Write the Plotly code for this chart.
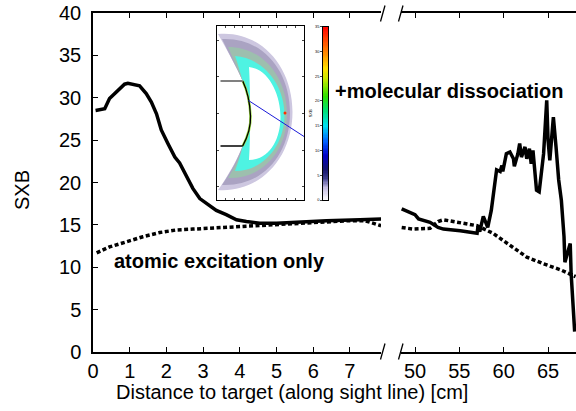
import numpy as np
import plotly.graph_objects as go

# ---------------- data ----------------
left_solid_x = [0.07, 0.32, 0.45, 0.55, 0.68, 0.86, 0.95, 1.14, 1.27, 1.45, 1.59, 1.73, 1.86,
                2.04, 2.23, 2.36, 2.54, 2.72, 2.91, 3.09, 3.36, 3.63, 3.91, 4.18, 4.54, 5.0,
                5.45, 6.36, 7.27, 7.85]
left_solid_y = [28.5, 28.7, 29.9, 30.3, 30.9, 31.6, 31.7, 31.5, 31.4, 30.5, 29.5, 28.1, 26.2,
                24.6, 23.0, 22.3, 20.7, 19.3, 18.1, 17.5, 16.7, 16.2, 15.6, 15.4, 15.2, 15.2,
                15.3, 15.5, 15.6, 15.7]
left_dot_x = [0.1, 0.45, 0.91, 1.36, 1.82, 2.27, 2.72, 3.63, 4.54, 5.45, 6.36, 7.0, 7.4, 7.85]
left_dot_y = [11.7, 12.4, 13.0, 13.6, 14.1, 14.4, 14.5, 14.7, 15.0, 15.2, 15.4, 15.5, 15.5, 14.9]

right_solid_x = [48.5, 50.0, 50.4, 51.7, 52.6, 53.2, 55.1, 57.0, 57.1, 57.3, 57.7, 58.2, 58.6,
                 58.8, 59.0, 59.2, 59.6, 59.8, 59.9, 60.3, 60.7, 61.1, 61.2, 61.6, 61.8, 62.0,
                 62.4, 62.6, 62.9, 63.1, 63.3, 63.5, 63.7, 64.0, 64.3, 64.5, 64.85, 65.0, 65.2,
                 65.6, 65.9, 66.2, 66.5, 66.8, 66.9, 67.3, 67.5, 67.6, 67.8, 68.0]
right_solid_y = [16.9, 16.2, 15.7, 15.3, 14.7, 14.5, 14.3, 14.0, 14.8, 14.2, 16.0, 14.7, 16.7,
                 18.1, 19.9, 21.5, 21.3, 22.0, 21.3, 23.4, 23.6, 22.8, 21.9, 23.4, 24.6, 23.0,
                 24.2, 22.8, 24.0, 22.2, 23.8, 20.7, 19.1, 18.9, 21.5, 23.4, 29.7, 25.0, 22.6,
                 27.7, 24.2, 20.3, 17.9, 13.6, 10.6, 12.0, 12.8, 9.3, 5.7, 2.4]
right_dot_x = [48.5, 49.8, 51.7, 52.6, 53.2, 55.1, 57.0, 58.8, 60.7, 62.6, 64.5, 66.4, 68.1]
right_dot_y = [14.7, 14.5, 14.6, 15.4, 15.6, 15.3, 14.9, 14.0, 12.6, 11.2, 10.4, 9.7, 8.9]

left_ticks = [0, 1, 2, 3, 4, 5, 6, 7]
right_ticks = [50, 55, 60, 65]
y_ticks = [0, 5, 10, 15, 20, 25, 30, 35, 40]
cb_ticks = [0, 5, 10, 15, 20, 25, 30, 35]
cb_levels = np.linspace(0, 35, 141)

label_molecular = "+molecular dissociation"
label_atomic = "atomic excitation only"
x_title = "Distance to target (along sight line) [cm]"
y_title = "SXB"

# ---------------- layout geometry (pixels) ----------------
W, H = 576, 411
L, R, T, B = 93, 0, 13, 59
PW, PH = W - L - R, H - T - B


def px(xp):
    return (xp - L) / PW


def py(yp):
    return (H - B - yp) / PH


FONT = "Liberation Sans, Arial, Helvetica, sans-serif"
solid = dict(color="black", width=3.5)
dotted = dict(color="black", width=3.5, dash="4px,2.5px")

fig = go.Figure()
fig.add_trace(go.Scatter(x=left_solid_x, y=left_solid_y, mode="lines", line=solid,
                         xaxis="x", yaxis="y", showlegend=False))
fig.add_trace(go.Scatter(x=left_dot_x, y=left_dot_y, mode="lines", line=dotted,
                         xaxis="x", yaxis="y", showlegend=False))
fig.add_trace(go.Scatter(x=right_solid_x, y=right_solid_y, mode="lines", line=solid,
                         xaxis="x2", yaxis="y2", showlegend=False))
fig.add_trace(go.Scatter(x=right_dot_x, y=right_dot_y, mode="lines", line=dotted,
                         xaxis="x2", yaxis="y2", showlegend=False))

# inset (illustration) axes in pixel-like coordinates
fig.add_trace(go.Scatter(x=[None], y=[None], xaxis="x3", yaxis="y3", showlegend=False,
                         hoverinfo="skip"))
# colour bar of the inset
cb_colorscale = [[0.0, "#ffffff"], [0.07, "#c8c0e4"], [0.13, "#3a3a8a"], [0.18, "#14146e"],
                 [0.26, "#0000c8"], [0.34, "#0060ff"], [0.43, "#00e0f0"], [0.52, "#00e070"],
                 [0.6, "#30e000"], [0.7, "#c8e800"], [0.76, "#ffe000"], [0.84, "#ff9000"],
                 [1.0, "#ff0000"]]
fig.add_trace(go.Heatmap(z=[[v] for v in cb_levels], y=cb_levels, x=[0], xaxis="x4", yaxis="y4",
                         colorscale=cb_colorscale, zmin=0, zmax=35, showscale=False,
                         hoverinfo="skip"))

axis_common = dict(showline=True, linecolor="black", linewidth=1.5, ticks="inside",
                   ticklen=5, tickwidth=1.2, tickcolor="black", showgrid=False, zeroline=False,
                   automargin=False,
                   tickfont=dict(size=20, color="black", family=FONT))

inset_x0, inset_x1, inset_y0, inset_y1 = 216.7, 304.0, 200.0, 26.0
cb_x0, cb_x1, cb_y0, cb_y1 = 322.7, 328.3, 200.0, 26.7

fig.update_layout(
    template="none",
    width=W, height=H, margin=dict(l=L, r=R, t=T, b=B, pad=0, autoexpand=False),
    paper_bgcolor="white", plot_bgcolor="white",
    font=dict(family=FONT, size=20, color="black"),
    xaxis=dict(domain=[0, px(381)], range=[0, (381 - L) / 36.7], tickvals=left_ticks,
               anchor="y", mirror="ticks", **axis_common),
    xaxis2=dict(domain=[px(401), 1], range=[50 - (415 - 401) / 8.87, 50 + (576 - 415) / 8.87],
                tickvals=right_ticks, anchor="y2", mirror="ticks", **axis_common),
    yaxis=dict(domain=[0, 1], range=[0, 40], tickvals=y_ticks, anchor="x",
               ticklabelstandoff=6, **axis_common),
    yaxis2=dict(domain=[0, 1], range=[0, 40], anchor="x2", matches="y", showline=False,
                showticklabels=False, ticks="", showgrid=False, zeroline=False, automargin=False),
    xaxis3=dict(domain=[px(inset_x0), px(inset_x1)], range=[inset_x0, inset_x1], anchor="y3",
                showline=True, mirror="ticks", linecolor="black", linewidth=1, ticks="inside",
                ticklen=2, tickwidth=0.8, tick0=inset_x0, dtick=8.7, showticklabels=False,
                showgrid=False, zeroline=False, automargin=False),
    yaxis3=dict(domain=[py(inset_y0), py(inset_y1)], range=[inset_y0, inset_y1], anchor="x3",
                showline=True, mirror="ticks", linecolor="black", linewidth=1, ticks="inside",
                ticklen=2, tickwidth=0.8, tick0=40, dtick=36.7, showticklabels=False,
                showgrid=False, zeroline=False, automargin=False),
    xaxis4=dict(domain=[px(cb_x0), px(cb_x1)], anchor="y4", showline=True, mirror=True,
                linecolor="black", linewidth=1, showticklabels=False, ticks="",
                showgrid=False, zeroline=False, automargin=False),
    yaxis4=dict(domain=[py(cb_y0), py(cb_y1)], range=[0, 35], anchor="x4", side="left",
                showline=True, mirror=True, linecolor="black", linewidth=1, ticks="outside",
                ticklen=1.5, tickwidth=0.6, tickvals=cb_ticks, showgrid=False, zeroline=False,
                automargin=False,
                tickfont=dict(size=4, color="black", family=FONT),
                title=dict(text="SXB", font=dict(size=4, color="black", family=FONT), standoff=2)),
)

# ---------------- inset illustration (decorative shapes) ----------------
inner_edge_up = "C 247 138, 251 128, 250.5 116 C 250 104, 247 90, 242.7 81 "
crescent_layers = [
    ("M 218 34 C 260 30, 292.5 66, 292.5 112 C 292.5 158, 260 193, 218 190 "
     "C 228 176, 237 160, 242.7 146 " + inner_edge_up + "C 236 66, 227 50, 218 34 Z",
     "#cdc7e0"),
    ("M 222 39 C 262 37, 290 70, 290 113 C 290 155, 262 187, 222 185 "
     "C 231 172, 238 158, 242.7 146 " + inner_edge_up + "C 237 68, 229 54, 222 39 Z",
     "#aaa3c2"),
    ("M 228 47 C 262 47, 287 76, 287 114 C 287 152, 262 179, 228 178 "
     "C 235 167, 240 156, 242.7 146 " + inner_edge_up + "C 238 70, 233 58, 228 47 Z",
     "#9dbfae"),
    ("M 235 56 C 263 58, 284.5 84, 284.5 115 C 284.5 146, 263 171, 235 171 "
     "C 238 162, 241 154, 242.7 146 " + inner_edge_up + "C 240 72, 238 64, 235 56 Z",
     "#4ef3e2"),
    ("M 249 67 C 269 69, 280.5 95, 280.5 117 C 280.5 140, 269 160, 249 160 "
     "C 250.5 140, 250.5 90, 249 67 Z", "#ffffff"),
]
for path, col in crescent_layers:
    fig.add_shape(type="path", path=path, xref="x3", yref="y3", fillcolor=col,
                  line=dict(width=0), layer="above")

line_shapes = [
    ("M 242.7 81 C 247 90, 250 104, 250.5 116 C 251 128, 247 138, 242.7 146", "#9fe040", 2.5),
    ("M 242.7 81 C 247 90, 250 104, 250.5 116 C 251 128, 247 138, 242.7 146", "black", 1.3),
    ("M 220.5 81 L 242.7 81", "#808080", 2),
    ("M 220.5 146 L 242.7 146", "black", 1.5),
    ("M 248.5 100.5 L 304 136.5", "#1a1ad8", 1),
]
for path, col, w in line_shapes:
    fig.add_shape(type="path", path=path, xref="x3", yref="y3", line=dict(color=col, width=w),
                  layer="above")
fig.add_shape(type="circle", x0=283.5, x1=286.5, y0=111.5, y1=114.5, xref="x3", yref="y3",
              fillcolor="#ff3000", line=dict(width=0), layer="above")

# ---------------- axis-break marks ----------------
for xa in (380.5, 398.5):
    for yc in (13.5, 351.5):
        fig.add_shape(type="line", xref="paper", yref="paper",
                      x0=px(xa), y0=py(yc + 8), x1=px(xa + 4.5), y1=py(yc - 8),
                      line=dict(color="black", width=1.3))

# ---------------- texts ----------------
fig.add_annotation(text=label_atomic, x=3.46, y=10.73, xref="x", yref="y", showarrow=False,
                   font=dict(size=20, color="black", family=FONT, weight="bold"),
                   xanchor="center", yanchor="middle")
fig.add_annotation(text=label_molecular, x=px(449), y=py(91), xref="paper", yref="paper",
                   showarrow=False, font=dict(size=20, color="black", family=FONT, weight="bold"),
                   xanchor="center", yanchor="middle")
fig.add_annotation(text=x_title, x=px(292), y=py(392), xref="paper", yref="paper",
                   showarrow=False, font=dict(size=20, color="black", family=FONT),
                   xanchor="center", yanchor="middle")
fig.add_annotation(text=y_title, x=px(22), y=py(190), xref="paper", yref="paper",
                   showarrow=False, textangle=-90, font=dict(size=20, color="black", family=FONT),
                   xanchor="center", yanchor="middle")

fig.write_html("out.html", config={"displayModeBar": False},
               post_script="document.body.style.margin='0';document.body.style.padding='0';")
